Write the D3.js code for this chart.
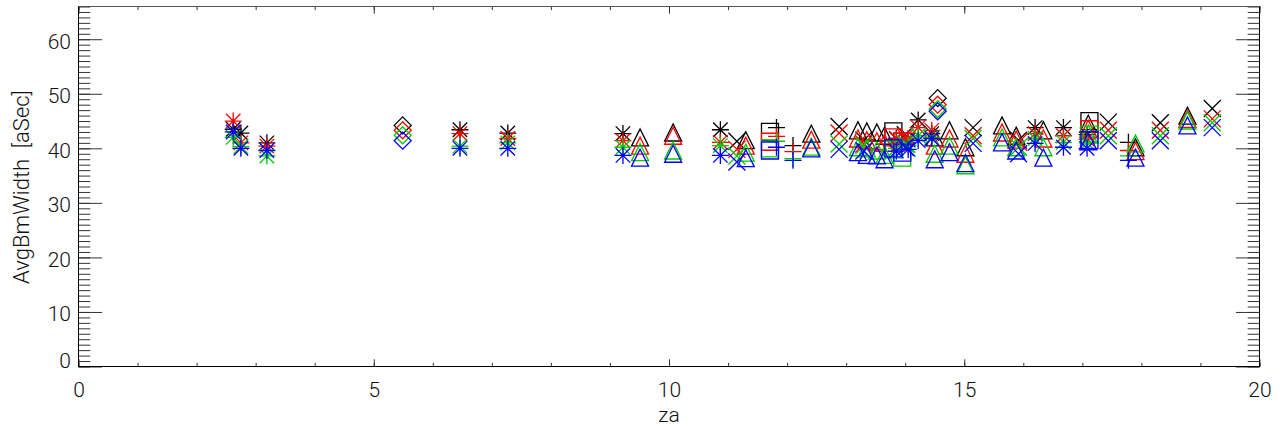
<!DOCTYPE html>
<html>
<head>
<meta charset="utf-8">
<script src="https://cdn.jsdelivr.net/npm/d3@7"></script>
<style>
  html, body { margin: 0; padding: 0; background: #fff; }
  svg { display: block; }
  text { font-family: Roboto, "DejaVu Sans", sans-serif; font-weight: 300; fill: #111; }
</style>
</head>
<body>
<svg id="chart" width="1285" height="429"></svg>
<script>
// ---- data ----
const za     = [2.62, 2.75, 3.19, 5.49, 6.46, 7.27, 9.22, 9.51, 10.07, 10.87, 11.15, 11.3, 11.71, 11.82, 12.1, 12.41, 12.88, 13.2, 13.35, 13.52, 13.3, 13.65, 13.8, 13.85, 13.95, 14.0, 14.05, 14.22, 14.45, 14.5, 14.55, 14.75, 15.02, 15.15, 15.64, 15.88, 15.92, 16.2, 16.34, 16.68, 17.08, 17.1, 17.12, 17.44, 17.78, 17.9, 18.32, 18.78, 19.2];
const symbol = ["ast","ast","ast","dia","ast","ast","ast","tri","tri","ast","x","tri","sq","plus","plus","tri","x","tri","tri","tri","x","tri","sq","ast","sq","x","ast","ast","ast","tri","dia","tri","tri","x","tri","tri","x","ast","tri","ast","ast","tri","sq","x","plus","tri","x","tri","x"];
const black  = [43.5, 42.8, 41.0, 44.2, 43.4, 42.8, 42.7, 42.0, 42.9, 43.4, 41.3, 41.5, 43.0, 43.8, 40.5, 42.7, 44.0, 43.3, 43.1, 42.9, 41.5, 42.3, 43.1, 41.8, 41.2, 42.5, 41.5, 45.2, 42.7, 42.0, 49.2, 43.3, 40.2, 43.8, 44.2, 42.3, 41.5, 43.8, 43.3, 43.8, 42.5, 44.5, 45.0, 44.8, 41.1, 40.2, 44.7, 46.0, 47.3];
const red    = [45.0, 41.0, 40.4, 43.3, 42.7, 41.8, 41.4, 40.5, 42.3, 41.1, 39.8, 40.5, 41.2, 42.2, 39.4, 41.6, 42.8, 41.8, 41.5, 41.3, 40.8, 41.0, 42.0, 41.7, 41.2, 42.0, 41.8, 43.8, 43.3, 40.5, 48.0, 41.8, 39.0, 42.3, 42.9, 41.6, 41.1, 42.7, 41.8, 42.3, 41.7, 43.6, 43.5, 43.3, 39.6, 39.5, 43.3, 45.4, 45.4];
const green  = [42.0, 40.3, 38.6, 42.4, 40.4, 41.0, 40.2, 39.3, 39.6, 40.5, 38.6, 39.2, 40.0, 41.3, 38.1, 40.3, 40.8, 40.2, 40.0, 39.6, 40.5, 38.8, 39.8, 40.0, 38.3, 40.8, 40.5, 42.3, 42.0, 39.0, 47.2, 40.5, 36.9, 41.8, 42.0, 40.2, 40.2, 41.8, 40.2, 41.1, 41.0, 42.7, 42.5, 42.3, 38.6, 40.9, 42.3, 45.1, 44.7];
const blue   = [43.0, 40.0, 39.6, 41.4, 40.0, 40.0, 38.7, 38.3, 39.0, 38.7, 37.5, 38.2, 39.6, 40.2, 37.8, 40.0, 39.8, 39.3, 38.8, 38.7, 39.5, 38.0, 40.0, 39.5, 39.2, 40.2, 39.8, 41.4, 41.8, 38.0, 46.8, 39.3, 37.3, 40.9, 41.1, 39.6, 39.0, 40.9, 38.3, 40.2, 40.0, 41.3, 41.5, 41.4, 37.8, 38.3, 41.4, 44.2, 43.8];
const seriesNames  = ["black", "red", "green", "blue"];
const xTicks = [0, 5, 10, 15, 20];
const yTicks = [0, 10, 20, 30, 40, 50, 60];
const xLabel = "za";
const yLabel = "AvgBmWidth\u00a0 [aSec]";

// ---- layout ----
const svg = d3.select("#chart");
const L = 78.5, R = 1259.5, T = 6.5, B = 366.5;
const x = d3.scaleLinear().domain([0, 20]).range([L, R]);
const y = d3.scaleLinear().domain([0, 66]).range([B, T]);
const colors = { black: "#000000", red: "#ff0000", green: "#00cc00", blue: "#0000ff" };
const values = { black, red, green, blue };

const plotW = R - L, plotH = B - T;
const yMaj = 0.02 * plotW, xMaj = 0.02 * plotH;
const tickColor = "#333";

function styleAxis(g) {
  g.select(".domain").remove();
  g.selectAll(".tick line").attr("stroke", tickColor).attr("stroke-width", 1);
}

// minor ticks
svg.append("g").attr("transform", `translate(0,${B})`)
  .call(d3.axisBottom(x).tickValues(d3.range(0, 21)).tickSize(-xMaj / 2).tickFormat(""))
  .call(styleAxis);
svg.append("g").attr("transform", `translate(0,${T})`)
  .call(d3.axisTop(x).tickValues(d3.range(0, 21)).tickSize(-xMaj / 2).tickFormat(""))
  .call(styleAxis);
svg.append("g").attr("transform", `translate(${L},0)`)
  .call(d3.axisLeft(y).tickValues(d3.range(0, 67)).tickSize(-yMaj / 2).tickFormat(""))
  .call(styleAxis);
svg.append("g").attr("transform", `translate(${R},0)`)
  .call(d3.axisRight(y).tickValues(d3.range(0, 67)).tickSize(-yMaj / 2).tickFormat(""))
  .call(styleAxis);

// major ticks + labels
const gx = svg.append("g").attr("transform", `translate(0,${B})`)
  .call(d3.axisBottom(x).tickValues(xTicks).tickSize(-xMaj).tickPadding(16).tickFormat(d3.format("d")))
  .call(styleAxis);
gx.selectAll("text").attr("font-size", 21).attr("fill", "#111").attr("font-family", null);
svg.append("g").attr("transform", `translate(0,${T})`)
  .call(d3.axisTop(x).tickValues(xTicks).tickSize(-xMaj).tickFormat(""))
  .call(styleAxis);
const gy = svg.append("g").attr("transform", `translate(${L},0)`)
  .call(d3.axisLeft(y).tickValues(yTicks).tickSize(-yMaj).tickPadding(7.5).tickFormat(d3.format("d")))
  .call(styleAxis);
gy.selectAll("text").attr("font-size", 21).attr("fill", "#111").attr("font-family", null)
  .attr("dy", d => d === 0 ? "0.05em" : "0.42em");
svg.append("g").attr("transform", `translate(${R},0)`)
  .call(d3.axisRight(y).tickValues(yTicks).tickSize(-yMaj).tickFormat(""))
  .call(styleAxis);

// frame
svg.append("rect").attr("x", L).attr("y", T).attr("width", plotW).attr("height", plotH)
  .attr("fill", "none").attr("stroke", "#000").attr("stroke-width", 1);
svg.append("line").attr("x1", L).attr("x2", R).attr("y1", T).attr("y2", T).attr("stroke", "#555");

// axis titles
svg.append("text").attr("x", (L + R) / 2).attr("y", 422).attr("text-anchor", "middle")
  .attr("font-size", 21).text(xLabel);
svg.append("text").attr("transform", `translate(28.5,187) rotate(-90)`).attr("text-anchor", "middle")
  .attr("font-size", 22).text(yLabel);

// symbols
const s = 8.5;
function symPath(type) {
  const p = d3.path();
  const d = s * 0.85;
  if (type === "plus" || type === "ast") {
    p.moveTo(-s, 0); p.lineTo(s, 0);
    p.moveTo(0, -s); p.lineTo(0, s);
  }
  if (type === "x" || type === "ast") {
    const e = type === "x" ? s : d;
    p.moveTo(-e, -e); p.lineTo(e, e);
    p.moveTo(-e, e); p.lineTo(e, -e);
  }
  if (type === "dia") {
    p.moveTo(0, -s); p.lineTo(s, 0); p.lineTo(0, s); p.lineTo(-s, 0); p.closePath();
  }
  if (type === "tri") {
    p.moveTo(-s, s); p.lineTo(0, -s); p.lineTo(s, s); p.closePath();
  }
  if (type === "sq") {
    p.rect(-s, -s, 2 * s, 2 * s);
  }
  return p.toString();
}

const plot = svg.append("g");
seriesNames.forEach(name => {
  const data = za.map((z, i) => ({ z, v: values[name][i], t: symbol[i] }));
  plot.append("g").attr("class", "series-" + name)
    .selectAll("path").data(data).join("path")
    .attr("transform", d => `translate(${x(d.z)},${y(d.v)})`)
    .attr("d", d => symPath(d.t))
    .attr("fill", "none")
    .attr("stroke", colors[name])
    .attr("stroke-width", 1.3);
});
</script>
</body>
</html>
